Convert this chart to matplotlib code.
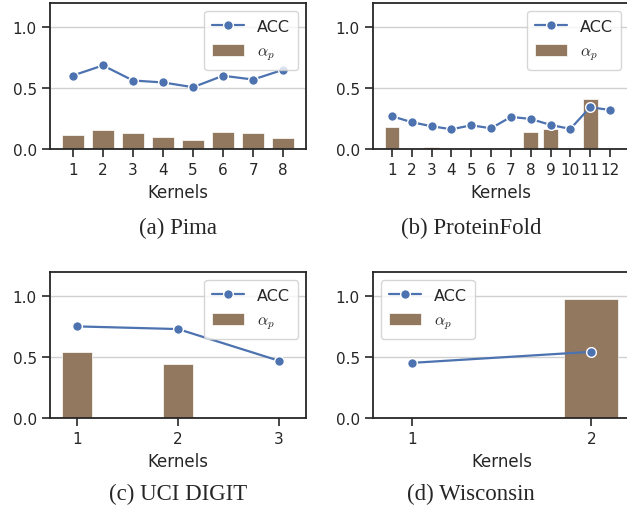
import matplotlib
matplotlib.use("Agg")
import matplotlib.pyplot as plt
import seaborn as sns
import numpy as np

# values
pima_acc = [0.604, 0.687, 0.563, 0.547, 0.508, 0.602, 0.571, 0.651]
pima_alpha = [0.113, 0.154, 0.129, 0.096, 0.074, 0.140, 0.135, 0.088]

protein_acc = [0.269, 0.220, 0.187, 0.162, 0.195, 0.170, 0.264, 0.247, 0.198, 0.165, 0.343, 0.321]
protein_alpha = [0.181, 0.0, 0.015, 0.0, 0.003, 0.0, 0.0, 0.143, 0.165, 0.0, 0.412, 0.0]

digit_acc = [0.753, 0.731, 0.470]
digit_alpha = [0.544, 0.440, 0.0]

wisc_acc = [0.453, 0.544]
wisc_alpha = [0.0, 0.978]

captions = ["(a) Pima", "(b) ProteinFold", "(c) UCI DIGIT", "(d) Wisconsin"]

sns.set_style("ticks")
plt.rcParams["font.family"] = ["DejaVu Sans"]
plt.rcParams["mathtext.fontset"] = "cm"

W, H = 627, 510
fig = plt.figure(figsize=(W / 100, H / 100), dpi=100)

def px_axes(left, top, right, bottom):
    return fig.add_axes([left / W, 1 - bottom / H, (right - left) / W, (bottom - top) / H])

panels = [
    (px_axes(50, 4, 306, 150), pima_acc, pima_alpha, 0.75, "upper right"),
    (px_axes(373, 4, 629, 150), protein_acc, protein_alpha, 0.75, "upper right"),
    (px_axes(50, 273, 306, 419), digit_acc, digit_alpha, 0.3, "upper right"),
    (px_axes(373, 273, 630, 419), wisc_acc, wisc_alpha, 0.3, "upper left"),
]

blue = sns.color_palette("deep")[0]
brown = sns.color_palette("deep")[5]

for i, (ax, acc, alpha, bw, loc) in enumerate(panels):
    x = np.arange(1, len(acc) + 1)
    ax.bar(x, alpha, width=bw, color=brown, edgecolor="w", linewidth=0.5, label=r"$\alpha_p$", zorder=2)
    ax.plot(x, acc, color=blue, marker="o", markersize=7, markeredgecolor="w",
            markeredgewidth=1.0, linewidth=1.6, label="ACC", zorder=3)
    ax.set_ylim(0, 1.2)
    ax.set_yticks([0.0, 0.5, 1.0])
    ax.set_xticks(x)
    ax.yaxis.grid(True, color="#d0d0d0", linewidth=1.0, zorder=0)
    ax.set_axisbelow(True)
    ax.tick_params(labelsize=11, length=6, width=1.2)
    for s in ax.spines.values():
        s.set_linewidth(1.3)
        s.set_color("#262626")
    ax.set_xlabel("Kernels", fontsize=12)
    ax.legend(loc=loc, fontsize=11.5, frameon=True, borderpad=0.5, labelspacing=0.6)
    cx_mid = (50 + 256 / 2) / W if i % 2 == 0 else (373 + 196 / 2) / W
    cy = 1 - (228 if i < 2 else 494) / H
    fig.text(cx_mid, cy, captions[i], ha="center", va="center",
             fontsize=16.5, family="Liberation Serif")

fig.savefig("out.png", dpi=100)
